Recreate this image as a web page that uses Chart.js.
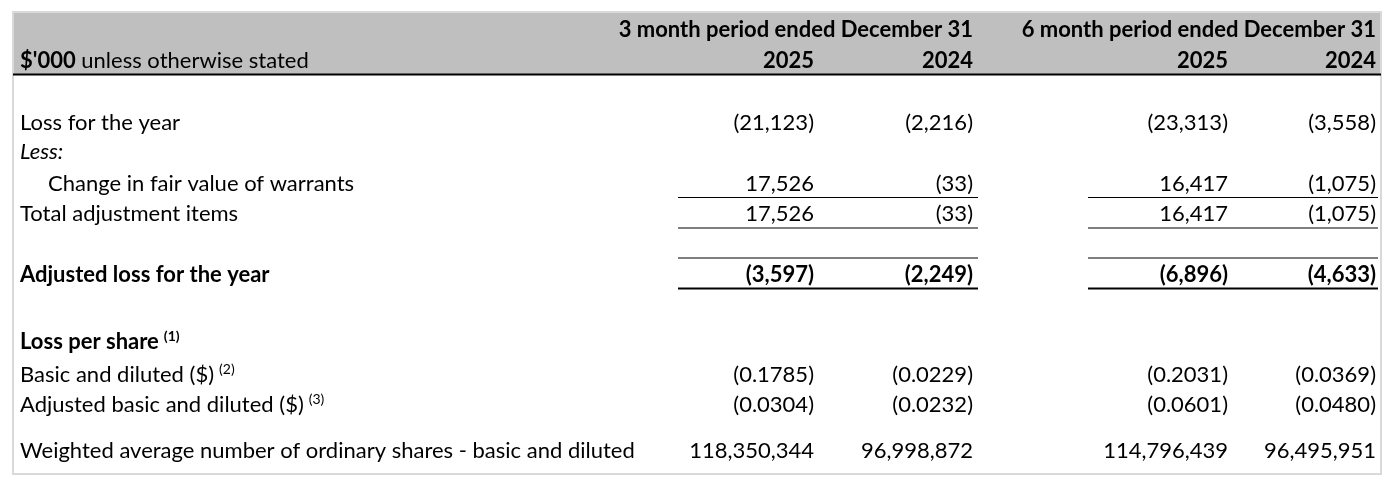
<!DOCTYPE html>
<html>
<head>
<meta charset="utf-8">
<script src="https://cdn.jsdelivr.net/npm/chart.js@4"></script>
<style>
  body { margin: 0; background: #fff; }
</style>
</head>
<body>
<canvas id="lossTable" width="1396" height="484"></canvas>
<script>
// row labels and the four period columns ($'000 unless stated)
const rowLabels = ["Loss for the year", "Less:", "Change in fair value of warrants", "Total adjustment items",
  "Adjusted loss for the year", "Loss per share", "Basic and diluted ($)", "Adjusted basic and diluted ($)",
  "Weighted average number of ordinary shares - basic and diluted"];
const rowNotes = [null, null, null, null, null, "(1)", "(2)", "(3)", null];
const periods = ["3 month period ended December 31", "6 month period ended December 31"];
const years = ["2025", "2024", "2025", "2024"];
const q3_2025 = [-21123, null, 17526, 17526, -3597, null, -0.1785, -0.0304, 118350344];
const q3_2024 = [-2216, null, -33, -33, -2249, null, -0.0229, -0.0232, 96998872];
const h1_2025 = [-23313, null, 16417, 16417, -6896, null, -0.2031, -0.0601, 114796439];
const h1_2024 = [-3558, null, -1075, -1075, -4633, null, -0.0369, -0.0480, 96495951];

const columns = [q3_2025, q3_2024, h1_2025, h1_2024];

function fmt(v) {
  if (v === null) return "";
  let s = Math.abs(v) < 1 ? Math.abs(v).toFixed(4) : Math.abs(v).toLocaleString("en-US");
  return v < 0 ? "(" + s + ")" : s;
}

// layout, in table units (x: from left border, y: from top border)
const layout = {
  labelX: 7, indentX: 35,
  colRight: [801, 960, 1215, 1363],
  headerY: [25, 56], headerBottom: 62.5,
  rowY: [118, 147, 179, 209, 270, 337, 370, 400, 446],
  bold: [4, 5], italic: [1], indent: [2],
  rules: [
    { y: 185.5, w: 1 }, { y: 216, w: 1 }, { y: 246, w: 1 }, { y: 276.5, w: 2 }
  ],
  ruleSpans: [[665, 965], [1075, 1365]]
};

const FONT = "Lato";
const SIZE = 22;

const tablePlugin = {
  id: 'lossTable',
  afterDraw(chart) {
    const { ctx, chartArea: a, scales: { x, y } } = chart;
    const px = v => x.getPixelForValue(v);
    const py = v => y.getPixelForValue(v);
    const unit = px(1) - px(0);

    function text(str, xv, yv, align, weight, style, size) {
      ctx.font = (style || "normal") + " " + (weight || "normal") + " " + (size || SIZE) + "px " + FONT;
      ctx.textAlign = align;
      ctx.textBaseline = "alphabetic";
      ctx.fillStyle = "#000";
      ctx.fillText(str, px(xv), py(yv));
      return ctx.measureText(str).width;
    }

    ctx.save();
    // header band
    ctx.fillStyle = "#bfbfbf";
    ctx.fillRect(a.left, a.top, a.right - a.left, py(layout.headerBottom) - a.top);
    // outer border
    ctx.strokeStyle = "#d9d9d9";
    ctx.lineWidth = 2;
    ctx.strokeRect(a.left, a.top, a.right - a.left, a.bottom - a.top);
    // header underline
    ctx.strokeStyle = "#000";
    ctx.lineWidth = 2;
    ctx.beginPath();
    ctx.moveTo(a.left, py(layout.headerBottom));
    ctx.lineTo(a.right, py(layout.headerBottom));
    ctx.stroke();

    // header texts
    periods.forEach((p, i) => text(p, layout.colRight[i * 2 + 1], layout.headerY[0], "right", "bold"));
    years.forEach((yr, i) => text(yr, layout.colRight[i], layout.headerY[1], "right", "bold"));
    const w = text("$'000", layout.labelX, layout.headerY[1], "left", "bold");
    text(" unless otherwise stated", layout.labelX + w / unit, layout.headerY[1], "left");

    // body rows
    rowLabels.forEach((lab, r) => {
      const bold = layout.bold.includes(r) ? "bold" : "normal";
      const ital = layout.italic.includes(r) ? "italic" : "normal";
      const lx = layout.indent.includes(r) ? layout.indentX : layout.labelX;
      const yv = layout.rowY[r];
      const lw = text(lab, lx, yv, "left", bold, ital);
      if (rowNotes[r]) {
        text(rowNotes[r], lx + (lw + 5) / unit, yv - 8, "left", bold, "normal", 14);
      }
      columns.forEach((col, c) => {
        text(fmt(col[r]), layout.colRight[c], yv, "right", bold);
      });
    });

    // rules under totals
    ctx.strokeStyle = "#000";
    layout.rules.forEach(rl => {
      ctx.lineWidth = rl.w;
      layout.ruleSpans.forEach(sp => {
        ctx.beginPath();
        ctx.moveTo(px(sp[0]), py(rl.y));
        ctx.lineTo(px(sp[1]), py(rl.y));
        ctx.stroke();
      });
    });
    ctx.restore();
  }
};

const lossChart = new Chart(document.getElementById("lossTable"), {
  type: 'scatter',
  data: { datasets: [] },
  options: {
    responsive: false,
    animation: false,
    devicePixelRatio: 1,
    layout: { padding: { left: 13, top: 12, right: 15, bottom: 10 } },
    plugins: { legend: { display: false }, tooltip: { enabled: false } },
    scales: {
      x: { type: 'linear', min: 0, max: 1368, display: false },
      y: { type: 'linear', min: 0, max: 462, reverse: true, display: false }
    }
  },
  plugins: [tablePlugin]
});
</script>
</body>
</html>
